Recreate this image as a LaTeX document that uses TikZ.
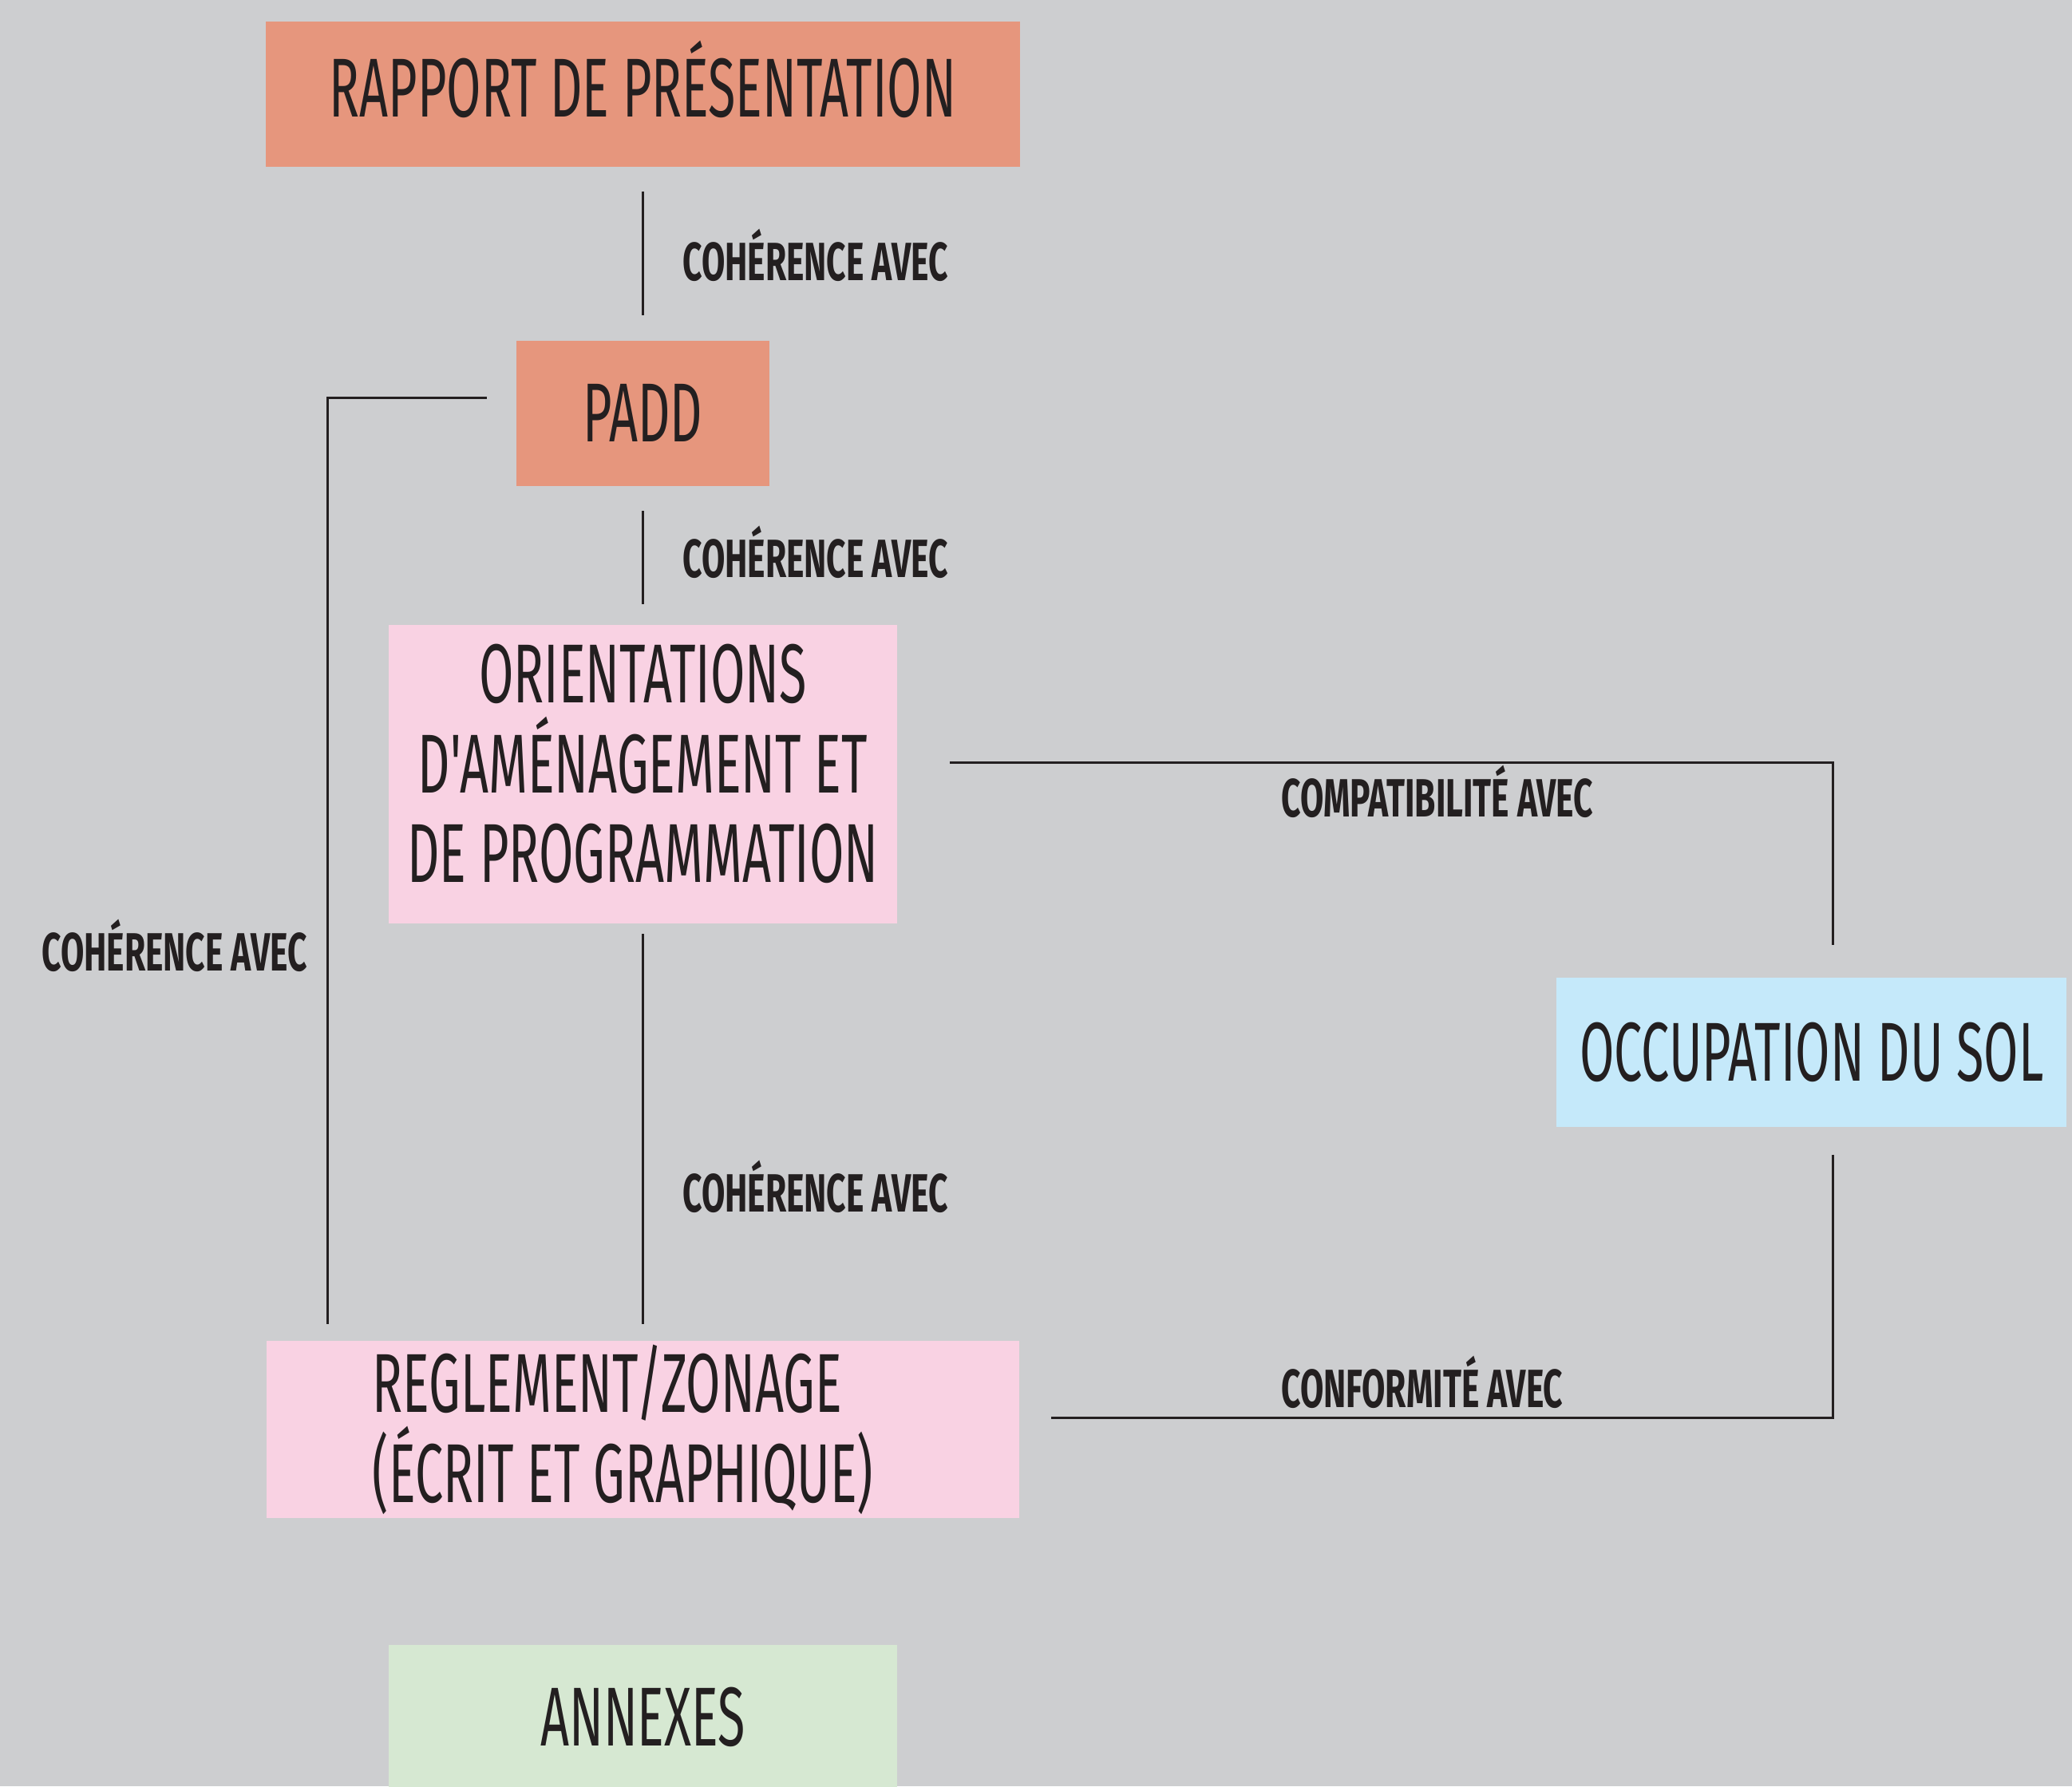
\documentclass[tikz,border=0pt]{standalone}
\usepackage{fontspec}
\usetikzlibrary{positioning}
\newfontfamily\handfont[FakeStretch=0.6]{Fira Sans}
\newfontfamily\linkfont[FakeStretch=0.63]{Fira Sans}
\definecolor{bggrey}{RGB}{205,206,208}
\definecolor{ink}{RGB}{35,31,32}
\definecolor{salmon}{RGB}{230,150,125}
\definecolor{rosepink}{RGB}{249,210,227}
\definecolor{skyblue}{RGB}{197,233,250}
\definecolor{palegreen}{RGB}{214,232,210}

\begin{document}
\begin{tikzpicture}[x=0.1mm,y=-0.1mm,
	box/.style={rectangle,inner sep=0pt,text=ink,align=center,font=\handfont\fontsize{18}{19.3}\selectfont},
	oneline/.style={text height=4.3mm,text depth=0pt},
	link/.style={inner sep=0pt,text=ink,text height=2.8mm,text depth=0pt,font=\linkfont\bfseries\fontsize{11.6}{12}\selectfont},
	conn/.style={draw=ink,line width=0.5pt}]
				\fill[bggrey] (0,0) rectangle (1568,1352);
				\useasboundingbox (0,0) rectangle (1568,1352);
				
				% boxes
				\node[box,oneline,text depth=0.8mm,fill=salmon,minimum width=57.1mm,minimum height=11mm] (rapport) at (486.5,71) {RAPPORT DE PRÉSENTATION};
				\node[box,oneline,fill=salmon,minimum width=19.1mm,minimum height=11mm] (padd) at (486.5,313) {PADD};
				\node[box,fill=rosepink,minimum width=38.5mm,minimum height=22.6mm] (oap) at (486.5,586) {};
				\node[box] (oaptext) at ([yshift=0.8mm]oap.center) {ORIENTATIONS\\ D'AMÉNAGEMENT ET\\ DE PROGRAMMATION};
				\node[box,fill=rosepink,minimum width=57mm,minimum height=13.4mm,text width=40.9mm,inner xsep=8.05mm,align=flush left] (regl) at (486.5,1082) {REGLEMENT/ZONAGE\\ (ÉCRIT ET GRAPHIQUE)};
				\node[box,oneline,fill=palegreen,minimum width=38.5mm,minimum height=11mm] (annexes) at (486.5,1300) {ANNEXES};
				\node[box,oneline,fill=skyblue,minimum width=38.6mm,minimum height=11.3mm] (occ) at (1371,796.5) {OCCUPATION DU SOL};
				
				% connectors
				\draw[conn] ([yshift=-1.8mm]rapport.south) -- ([yshift=1.9mm]padd.north);
				\draw[conn] ([yshift=-1.8mm]padd.south) -- ([yshift=1.5mm]oap.north);
				\draw[conn] ([yshift=-0.7mm]oap.south) -- ([yshift=1.2mm]regl.north);
				\draw[conn] ([shift={(-22,-12)}]padd.west) -| ([shift={(-238.5,-12)}]regl.north);
				\draw[conn] ([shift={(39,-9)}]oap.east) -| ([shift={(16,-24)}]occ.north);
				\draw[conn] ([shift={(16,20)}]occ.south) |- ([shift={(23,-9)}]regl.east);
				
				% labels
				\node[link,anchor=west] (lab1) at (516,198) {COHÉRENCE AVEC};
				\node[link,anchor=west] (lab2) at (516,423) {COHÉRENCE AVEC};
				\node[link,anchor=west] (lab3) at (516,903) {COHÉRENCE AVEC};
				\node[link,anchor=east] (lab4) at (233,721) {COHÉRENCE AVEC};
				\node[link,anchor=west] (lab5) at (969,604) {COMPATIBILITÉ AVEC};
				\node[link,anchor=west] (lab6) at (969,1051) {CONFORMITÉ AVEC};
\end{tikzpicture}
\end{document}
